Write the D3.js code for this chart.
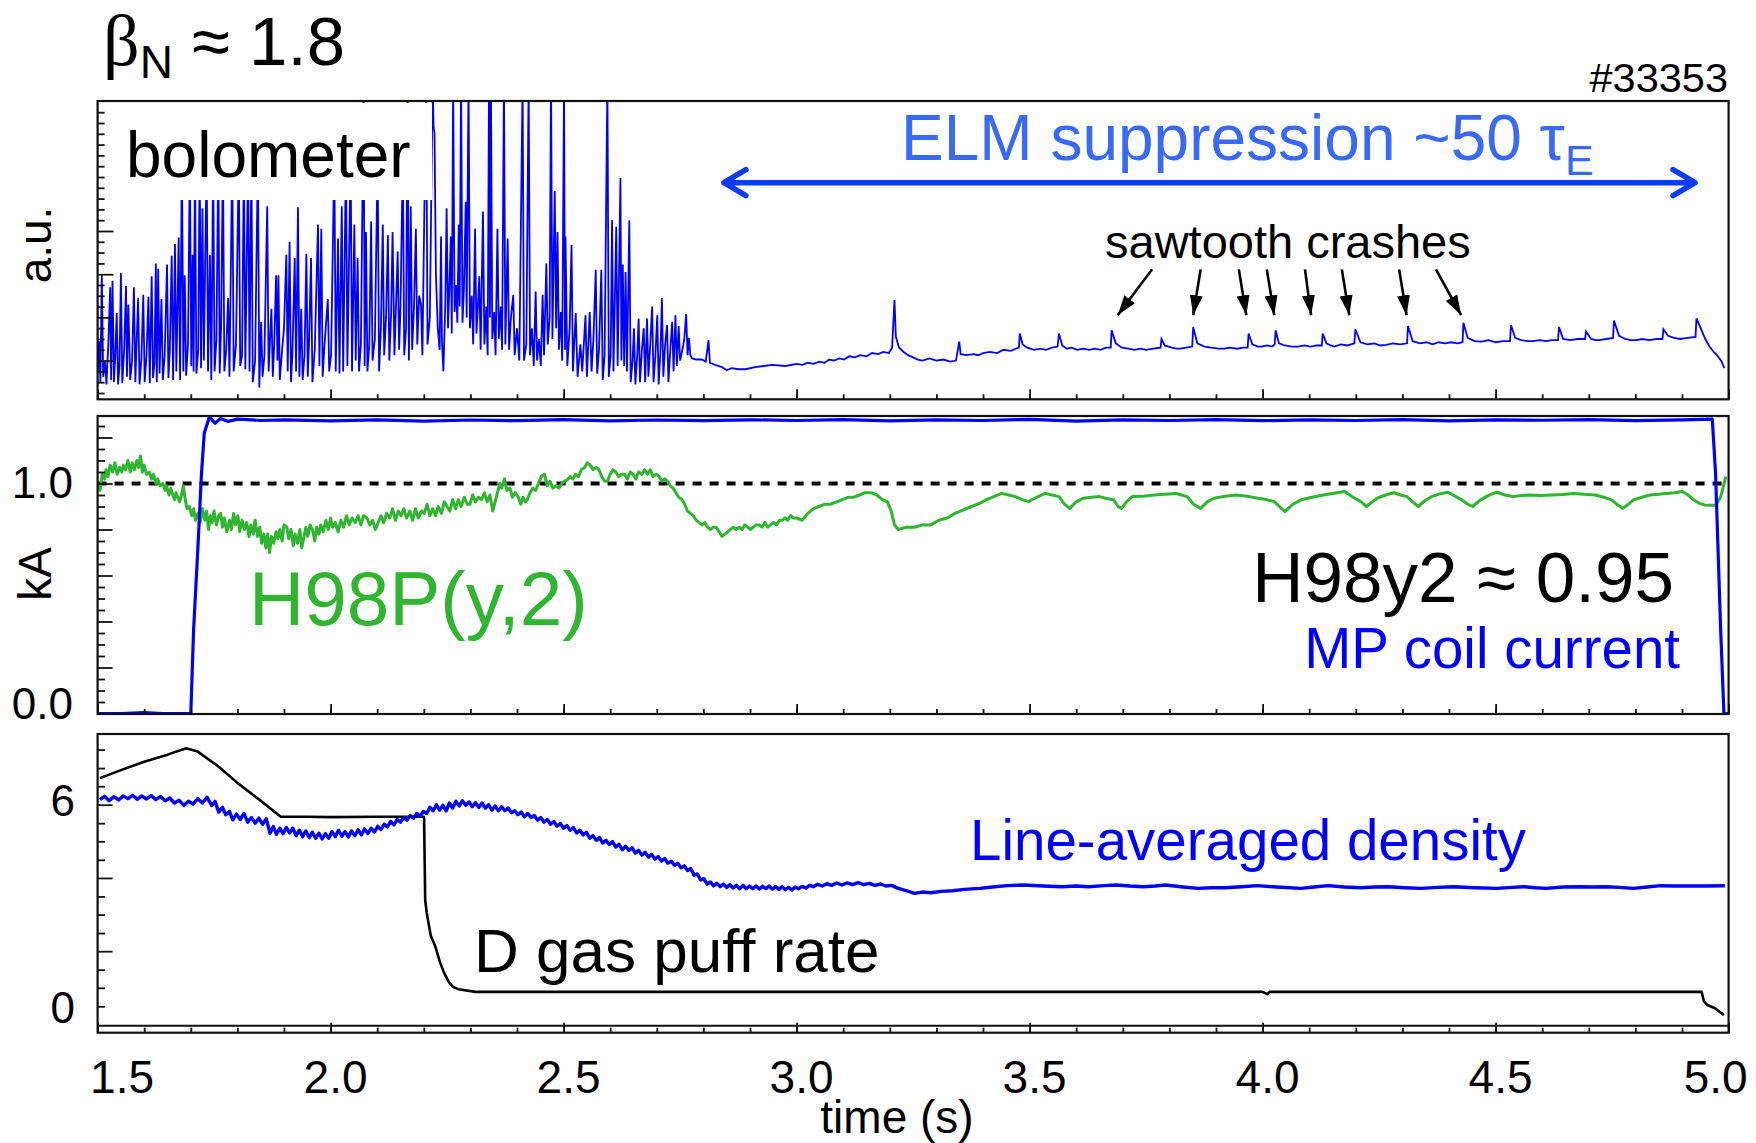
<!DOCTYPE html>
<html><head><meta charset="utf-8">
<script src="https://cdn.jsdelivr.net/npm/d3@7"></script>
<style>
body{margin:0;background:#fff}
svg{display:block}
text{font-family:"Liberation Sans",Arial,Helvetica,sans-serif}
</style></head>
<body><svg id="chart" width="1756" height="1143"></svg>
<script>
// ---------------- DATA ----------------
const timeMajorTicks = [1.5, 2.0, 2.5, 3.0, 3.5, 4.0, 4.5, 5.0];
const timeTickLabels = ["1.5", "2.0", "2.5", "3.0", "3.5", "4.0", "4.5", "5.0"];
const topMajorTicks = [0.4, 0.8, 1.2, 1.6];
const midMajorTicks = [0.2, 0.4, 0.6, 0.8, 1.0, 1.2];
const midTickLabels = [["1.0", 1.0], ["0.0", 0.0]];
const botMinorTicks = [0, 0.55, 1.09, 2.18, 2.73, 3.27, 4.36, 4.91, 5.45, 6.55, 7.09, 7.64];
const botMajorTicks = [1.64, 3.82, 6.0];
const botTickLabels = [["6", 6], ["0", 0]];
const h98Reference = 1.0;

// bolometer, ELM phase [t (s), a.u.]
const boloElm = [
[1.500,0.30],[1.503,0.58],[1.506,0.20],[1.509,1.20],[1.512,0.25],[1.516,0.40],[1.519,0.18],[1.523,0.55],[1.527,1.08],[1.529,0.22],
[1.532,1.14],[1.535,0.20],[1.538,0.45],[1.541,0.84],[1.544,0.18],[1.547,0.35],[1.550,1.21],[1.553,0.19],[1.557,0.50],[1.561,1.09],
[1.563,0.25],[1.566,0.92],[1.570,0.22],[1.574,0.40],[1.578,1.08],[1.581,0.20],[1.584,0.60],[1.587,0.98],[1.590,0.18],[1.594,0.42],
[1.598,1.01],[1.601,0.20],[1.605,0.45],[1.609,0.99],[1.612,0.19],[1.616,1.18],[1.619,0.24],[1.622,0.38],[1.625,1.30],[1.627,0.20],
[1.630,1.25],[1.633,0.28],[1.637,0.97],[1.640,0.22],[1.644,0.45],[1.649,1.29],[1.652,0.24],[1.655,0.50],[1.659,1.37],[1.662,0.22],
[1.666,1.48],[1.669,0.30],[1.674,1.54],[1.677,0.22],[1.681,2.30],[1.684,0.30],[1.687,1.19],[1.690,0.26],[1.694,0.55],[1.698,2.30],
[1.701,0.35],[1.704,1.38],[1.706,0.30],[1.709,2.30],[1.712,0.28],[1.716,0.50],[1.719,2.30],[1.722,0.33],[1.725,1.81],[1.728,0.40],
[1.734,2.30],[1.737,0.30],[1.741,1.38],[1.744,0.22],[1.748,2.30],[1.751,0.30],[1.755,0.60],[1.759,2.30],[1.762,0.28],[1.765,0.70],
[1.769,2.30],[1.772,0.30],[1.776,0.50],[1.780,0.98],[1.783,0.25],[1.789,2.30],[1.792,0.30],[1.797,0.55],[1.803,2.30],[1.806,0.35],
[1.810,0.45],[1.814,2.30],[1.817,0.32],[1.823,2.30],[1.826,0.30],[1.830,2.30],[1.833,0.20],[1.838,0.40],[1.844,2.30],[1.847,0.15],
[1.851,0.76],[1.854,0.25],[1.858,0.45],[1.864,1.83],[1.867,0.30],[1.873,0.88],[1.876,0.25],[1.879,0.55],[1.883,1.19],[1.886,0.40],
[1.888,1.19],[1.891,0.22],[1.896,0.50],[1.900,0.70],[1.905,1.38],[1.908,0.30],[1.912,1.50],[1.915,0.20],[1.918,0.45],[1.923,1.35],
[1.926,0.30],[1.930,1.82],[1.933,0.25],[1.937,0.88],[1.940,0.22],[1.944,0.45],[1.948,1.39],[1.951,0.25],[1.954,0.60],[1.958,1.35],
[1.961,0.20],[1.966,0.50],[1.973,1.66],[1.976,0.35],[1.980,1.62],[1.983,0.25],[1.987,0.55],[1.994,0.97],[1.997,0.30],[2.001,0.45],
[2.008,2.30],[2.011,0.30],[2.016,1.53],[2.019,0.28],[2.024,1.83],[2.027,0.30],[2.033,2.30],[2.036,0.35],[2.043,2.30],[2.046,0.30],
[2.051,1.66],[2.054,0.40],[2.058,1.35],[2.061,0.30],[2.065,0.55],[2.071,3.00],[2.073,0.35],[2.076,1.59],[2.079,0.30],[2.083,0.55],
[2.087,1.69],[2.090,0.40],[2.095,0.60],[2.101,2.30],[2.104,0.30],[2.108,0.70],[2.112,1.66],[2.115,0.45],[2.119,0.80],[2.123,1.56],
[2.126,0.40],[2.130,0.85],[2.133,1.59],[2.137,0.45],[2.144,1.41],[2.147,0.50],[2.150,0.90],[2.155,2.30],[2.158,0.45],[2.162,0.70],
[2.165,3.00],[2.168,0.40],[2.172,1.83],[2.175,0.50],[2.179,0.90],[2.183,1.62],[2.186,0.55],[2.190,1.00],[2.194,0.92],[2.197,0.45],
[2.205,3.00],[2.208,0.55],[2.213,0.80],[2.219,3.00],[2.221,2.57],[2.223,2.50],[2.226,1.20],[2.230,0.70],[2.234,0.50],[2.237,1.55],
[2.239,0.57],[2.242,0.30],[2.246,0.90],[2.249,1.81],[2.252,0.70],[2.255,1.10],[2.258,1.55],[2.260,0.65],[2.263,3.00],[2.266,0.85],
[2.269,1.10],[2.272,0.75],[2.275,1.66],[2.277,0.90],[2.280,3.00],[2.283,0.75],[2.286,1.05],[2.290,1.87],[2.292,0.80],[2.296,3.00],
[2.299,0.70],[2.303,1.00],[2.306,0.55],[2.310,1.62],[2.313,0.65],[2.316,0.90],[2.319,1.18],[2.322,0.50],[2.327,1.78],[2.330,0.55],
[2.334,0.90],[2.337,0.45],[2.340,3.00],[2.342,0.80],[2.344,3.00],[2.347,0.60],[2.351,0.85],[2.354,0.45],[2.358,1.62],[2.361,0.60],
[2.365,0.90],[2.368,0.50],[2.372,3.00],[2.375,0.55],[2.380,1.53],[2.383,0.50],[2.387,0.80],[2.392,1.01],[2.395,0.45],[2.400,0.70],
[2.405,0.40],[2.412,3.00],[2.415,0.40],[2.420,0.55],[2.425,3.00],[2.428,0.45],[2.432,0.70],[2.436,0.35],[2.440,1.04],[2.443,0.40],
[2.447,0.60],[2.451,0.35],[2.455,1.01],[2.458,0.45],[2.463,1.30],[2.466,0.55],[2.470,0.80],[2.473,3.00],[2.476,0.60],[2.481,1.97],
[2.484,0.70],[2.487,1.59],[2.490,0.50],[2.494,0.85],[2.497,0.40],[2.501,3.00],[2.503,0.50],[2.504,1.55],[2.508,0.35],[2.513,0.70],
[2.517,1.47],[2.520,0.30],[2.526,0.84],[2.530,0.25],[2.536,0.55],[2.540,0.30],[2.547,0.82],[2.550,0.25],[2.556,0.85],[2.560,0.30],
[2.564,0.60],[2.569,1.24],[2.572,0.28],[2.576,0.50],[2.581,1.24],[2.584,0.22],[2.588,0.45],[2.594,3.00],[2.597,0.25],[2.601,0.45],
[2.604,1.70],[2.607,0.30],[2.613,1.64],[2.616,0.35],[2.622,2.09],[2.624,0.40],[2.627,1.29],[2.630,0.35],[2.633,1.22],[2.636,0.30],
[2.641,1.70],[2.644,0.20],[2.648,0.40],[2.651,0.70],[2.654,0.18],[2.658,0.45],[2.661,0.79],[2.664,0.20],[2.668,0.50],[2.672,0.70],
[2.675,0.20],[2.679,0.79],[2.682,0.25],[2.686,0.55],[2.690,0.90],[2.693,0.20],[2.697,0.45],[2.701,0.82],[2.704,0.18],[2.708,0.50],
[2.711,0.98],[2.714,0.25],[2.718,0.55],[2.722,0.73],[2.725,0.20],[2.729,0.50],[2.733,0.76],[2.736,0.30],[2.740,0.82],[2.743,0.35],
[2.747,0.72],[2.750,0.40],[2.755,0.50],[2.759,0.60],[2.763,0.83],[2.766,0.45],[2.769,0.61],[2.772,0.45],[2.776,0.42],[2.785,0.41],
[2.797,0.41],[2.805,0.39],[2.811,0.59],[2.814,0.38],[2.825,0.36],[2.840,0.34],[2.850,0.31],[2.860,0.33],[2.876,0.32],[2.890,0.32],
[2.911,0.34],[2.930,0.35],[2.947,0.36],[2.976,0.35]
];
// bolometer, ELM-suppressed phase with sawtooth crashes
const boloSuppressed = [
[3.000,0.37],[3.012,0.36],[3.024,0.38],[3.036,0.37],[3.049,0.39],[3.060,0.38],[3.070,0.41],[3.080,0.40],[3.092,0.42],[3.102,0.41],
[3.113,0.44],[3.125,0.43],[3.137,0.45],[3.150,0.44],[3.162,0.47],[3.175,0.46],[3.186,0.48],[3.198,0.47],[3.205,0.52],[3.210,0.96],
[3.213,0.62],[3.220,0.52],[3.230,0.48],[3.239,0.45],[3.250,0.43],[3.260,0.41],[3.270,0.40],[3.285,0.42],[3.300,0.40],[3.315,0.41],
[3.330,0.39],[3.342,0.40],[3.349,0.575],[3.352,0.46],[3.365,0.45],[3.380,0.46],[3.390,0.45],[3.400,0.47],[3.415,0.48],[3.430,0.47],
[3.444,0.50],[3.460,0.49],[3.470,0.51],[3.477,0.52],[3.479,0.65],[3.485,0.55],[3.495,0.52],[3.510,0.50],[3.523,0.51],[3.535,0.50],
[3.548,0.52],[3.560,0.53],[3.563,0.65],[3.570,0.54],[3.580,0.51],[3.590,0.52],[3.602,0.50],[3.615,0.51],[3.628,0.50],[3.640,0.51],
[3.652,0.50],[3.664,0.52],[3.674,0.52],[3.676,0.68],[3.685,0.56],[3.698,0.52],[3.712,0.51],[3.725,0.50],[3.738,0.51],[3.750,0.50],
[3.765,0.51],[3.781,0.52],[3.783,0.60],[3.790,0.54],[3.805,0.52],[3.815,0.51],[3.823,0.51],[3.836,0.52],[3.849,0.53],[3.851,0.71],
[3.860,0.56],[3.875,0.53],[3.890,0.52],[3.905,0.51],[3.918,0.51],[3.930,0.52],[3.945,0.51],[3.958,0.52],[3.968,0.52],[3.970,0.65],
[3.978,0.55],[3.990,0.53],[3.997,0.53],[4.010,0.54],[4.020,0.53],[4.026,0.55],[4.028,0.68],[4.035,0.56],[4.048,0.54],[4.062,0.53],
[4.076,0.53],[4.090,0.54],[4.103,0.53],[4.116,0.54],[4.127,0.54],[4.129,0.65],[4.137,0.56],[4.146,0.54],[4.154,0.53],[4.168,0.55],
[4.182,0.54],[4.197,0.56],[4.199,0.69],[4.210,0.57],[4.225,0.55],[4.240,0.56],[4.252,0.54],[4.265,0.545],[4.280,0.56],[4.295,0.55],
[4.310,0.56],[4.312,0.72],[4.322,0.58],[4.338,0.56],[4.352,0.57],[4.365,0.55],[4.378,0.57],[4.391,0.56],[4.405,0.57],[4.418,0.56],
[4.429,0.57],[4.431,0.75],[4.440,0.61],[4.455,0.58],[4.470,0.575],[4.485,0.59],[4.500,0.57],[4.516,0.58],[4.531,0.58],[4.533,0.73],
[4.542,0.61],[4.555,0.59],[4.568,0.58],[4.581,0.58],[4.595,0.59],[4.608,0.58],[4.621,0.59],[4.634,0.59],[4.636,0.71],[4.645,0.60],
[4.660,0.59],[4.676,0.60],[4.692,0.60],[4.694,0.67],[4.705,0.60],[4.715,0.59],[4.723,0.59],[4.737,0.60],[4.752,0.61],[4.754,0.77],
[4.765,0.63],[4.778,0.60],[4.790,0.59],[4.802,0.59],[4.815,0.60],[4.830,0.59],[4.845,0.60],[4.858,0.60],[4.860,0.69],[4.870,0.63],
[4.883,0.61],[4.896,0.60],[4.912,0.61],[4.929,0.62],[4.931,0.79],[4.940,0.70],[4.950,0.60],[4.959,0.53],[4.968,0.48],[4.975,0.45],
[4.984,0.40],[4.991,0.33]
];
// MP coil current (kA)
const mpCoil = [
[1.500,0.00],[1.550,0.00],[1.600,0.004],[1.640,0.00],[1.690,0.00],[1.700,0.00],[1.706,0.363],[1.715,0.711],[1.723,1.046],[1.729,1.22],
[1.740,1.29],[1.752,1.262],[1.764,1.283],[1.780,1.270],[1.800,1.280],[1.850,1.274],[1.900,1.277],[2.000,1.272],[2.100,1.277],[2.200,1.271],
[2.300,1.276],[2.400,1.273],[2.500,1.278],[2.600,1.272],[2.700,1.276],[2.800,1.273],[2.900,1.277],[3.000,1.274],[3.100,1.278],[3.200,1.272],
[3.300,1.277],[3.400,1.274],[3.500,1.279],[3.600,1.271],[3.700,1.277],[3.800,1.274],[3.900,1.278],[4.000,1.273],[4.100,1.277],[4.200,1.274],
[4.300,1.278],[4.400,1.272],[4.500,1.277],[4.600,1.275],[4.700,1.278],[4.800,1.273],[4.900,1.277],[4.965,1.280],[4.972,1.046],[4.983,0.363],
[4.990,0.00],[5.000,0.00]
];
// H98P(y,2)
const h98 = [
[1.500,1.00],[1.505,0.97],[1.510,1.04],[1.515,1.02],[1.518,1.06],[1.522,1.03],[1.527,1.08],[1.532,1.05],[1.537,1.09],[1.542,1.04],
[1.547,1.07],[1.552,1.05],[1.555,1.08],[1.560,1.06],[1.565,1.10],[1.570,1.05],[1.574,1.09],[1.579,1.06],[1.584,1.10],[1.588,1.07],
[1.592,1.12],[1.596,1.05],[1.600,1.08],[1.605,1.04],[1.611,1.05],[1.616,1.02],[1.620,1.04],[1.625,1.00],[1.629,1.02],[1.634,0.99],
[1.640,1.00],[1.645,0.97],[1.648,0.99],[1.653,0.95],[1.657,0.98],[1.660,0.96],[1.665,0.93],[1.668,0.96],[1.672,0.94],[1.676,0.92],
[1.680,0.95],[1.684,0.99],[1.688,0.93],[1.692,0.89],[1.697,0.90],[1.702,0.86],[1.706,0.89],[1.710,0.84],[1.715,0.87],[1.720,0.83],
[1.725,0.89],[1.730,0.84],[1.734,0.88],[1.738,0.80],[1.742,0.86],[1.746,0.83],[1.750,0.88],[1.755,0.82],[1.760,0.86],[1.764,0.87],
[1.768,0.81],[1.772,0.85],[1.777,0.79],[1.783,0.84],[1.787,0.80],[1.792,0.87],[1.796,0.82],[1.801,0.86],[1.805,0.79],[1.810,0.84],
[1.815,0.80],[1.820,0.83],[1.825,0.77],[1.829,0.82],[1.834,0.78],[1.838,0.84],[1.843,0.77],[1.848,0.81],[1.852,0.74],[1.857,0.78],
[1.861,0.72],[1.865,0.78],[1.869,0.70],[1.873,0.77],[1.878,0.74],[1.883,0.79],[1.887,0.76],[1.891,0.80],[1.896,0.75],[1.900,0.82],
[1.906,0.81],[1.910,0.76],[1.915,0.80],[1.920,0.73],[1.924,0.78],[1.929,0.74],[1.934,0.80],[1.938,0.72],[1.942,0.76],[1.947,0.81],
[1.951,0.77],[1.956,0.82],[1.961,0.80],[1.966,0.75],[1.970,0.81],[1.975,0.78],[1.979,0.82],[1.984,0.79],[1.990,0.84],[1.995,0.80],
[2.000,0.85],[2.004,0.81],[2.010,0.83],[2.016,0.79],[2.022,0.84],[2.028,0.81],[2.034,0.86],[2.040,0.82],[2.046,0.85],[2.053,0.83],
[2.059,0.86],[2.065,0.82],[2.071,0.86],[2.078,0.85],[2.084,0.82],[2.090,0.84],[2.096,0.80],[2.102,0.83],[2.108,0.86],[2.114,0.83],
[2.120,0.87],[2.127,0.85],[2.133,0.89],[2.139,0.84],[2.145,0.88],[2.151,0.86],[2.157,0.89],[2.163,0.85],[2.170,0.88],[2.176,0.84],
[2.182,0.89],[2.188,0.85],[2.195,0.88],[2.201,0.87],[2.207,0.91],[2.213,0.86],[2.219,0.89],[2.225,0.86],[2.231,0.90],[2.238,0.87],
[2.244,0.92],[2.250,0.90],[2.256,0.88],[2.262,0.93],[2.268,0.89],[2.274,0.93],[2.280,0.90],[2.287,0.94],[2.293,0.91],[2.299,0.91],
[2.305,0.95],[2.311,0.92],[2.317,0.94],[2.324,0.93],[2.330,0.96],[2.336,0.92],[2.342,0.95],[2.348,0.88],[2.353,0.92],[2.358,0.96],
[2.363,1.00],[2.367,0.98],[2.373,1.02],[2.378,0.97],[2.385,0.98],[2.390,0.94],[2.396,0.96],[2.403,0.94],[2.408,0.91],[2.413,0.94],
[2.418,0.92],[2.422,0.93],[2.428,0.96],[2.434,0.98],[2.440,0.97],[2.446,1.00],[2.452,1.03],[2.459,1.04],[2.465,0.99],[2.471,1.01],
[2.477,0.98],[2.483,0.99],[2.490,0.98],[2.496,1.00],[2.502,1.01],[2.508,1.015],[2.514,1.03],[2.520,1.02],[2.526,1.04],[2.532,1.03],
[2.538,1.06],[2.545,1.07],[2.551,1.09],[2.557,1.08],[2.563,1.06],[2.570,1.07],[2.576,1.06],[2.582,1.03],[2.588,1.01],[2.594,1.01],
[2.600,1.04],[2.606,1.06],[2.612,1.05],[2.618,1.03],[2.624,1.04],[2.631,1.04],[2.637,1.02],[2.643,1.05],[2.649,1.04],[2.655,1.02],
[2.661,1.05],[2.668,1.04],[2.674,1.06],[2.680,1.04],[2.686,1.06],[2.692,1.03],[2.698,1.04],[2.705,1.03],[2.711,1.01],[2.717,1.02],
[2.723,1.01],[2.729,0.99],[2.735,0.98],[2.741,0.96],[2.747,0.94],[2.754,0.93],[2.760,0.91],[2.766,0.88],[2.772,0.87],[2.778,0.86],
[2.785,0.84],[2.791,0.83],[2.797,0.82],[2.803,0.83],[2.809,0.81],[2.815,0.80],[2.821,0.81],[2.827,0.81],[2.834,0.79],[2.840,0.77],
[2.846,0.78],[2.852,0.79],[2.858,0.80],[2.864,0.81],[2.870,0.80],[2.877,0.81],[2.883,0.80],[2.889,0.82],[2.895,0.81],[2.901,0.80],
[2.907,0.81],[2.913,0.82],[2.920,0.82],[2.926,0.81],[2.932,0.83],[2.938,0.81],[2.944,0.82],[2.950,0.83],[2.957,0.82],[2.963,0.84],
[2.969,0.84],[2.975,0.85],[2.981,0.84],[2.987,0.86],[2.993,0.85],[3.000,0.85],[3.012,0.84],[3.024,0.87],[3.036,0.89],[3.048,0.90],
[3.061,0.91],[3.073,0.91],[3.086,0.92],[3.098,0.93],[3.110,0.94],[3.122,0.94],[3.135,0.95],[3.147,0.96],[3.160,0.96],[3.172,0.95],
[3.184,0.93],[3.195,0.92],[3.203,0.88],[3.210,0.82],[3.218,0.80],[3.235,0.81],[3.253,0.81],[3.270,0.82],[3.288,0.82],[3.305,0.84],
[3.323,0.85],[3.340,0.87],[3.358,0.885],[3.375,0.90],[3.393,0.914],[3.408,0.93],[3.423,0.943],[3.440,0.957],[3.455,0.95],[3.469,0.943],
[3.484,0.93],[3.498,0.921],[3.515,0.94],[3.533,0.957],[3.548,0.95],[3.563,0.943],[3.575,0.91],[3.586,0.892],[3.600,0.92],[3.615,0.936],
[3.633,0.94],[3.650,0.943],[3.665,0.935],[3.680,0.929],[3.690,0.90],[3.697,0.892],[3.708,0.92],[3.720,0.943],[3.744,0.945],[3.767,0.95],
[3.790,0.953],[3.814,0.957],[3.826,0.95],[3.838,0.943],[3.852,0.91],[3.867,0.892],[3.881,0.92],[3.896,0.936],[3.920,0.945],[3.943,0.95],
[3.966,0.945],[3.990,0.936],[4.008,0.93],[4.025,0.921],[4.036,0.90],[4.048,0.878],[4.065,0.91],[4.083,0.929],[4.106,0.94],[4.130,0.95],
[4.153,0.958],[4.176,0.965],[4.194,0.94],[4.211,0.921],[4.223,0.90],[4.235,0.92],[4.246,0.936],[4.264,0.95],[4.281,0.96],[4.296,0.95],
[4.310,0.943],[4.322,0.92],[4.334,0.90],[4.348,0.925],[4.363,0.943],[4.380,0.955],[4.398,0.962],[4.413,0.945],[4.427,0.929],[4.440,0.91],
[4.451,0.90],[4.465,0.925],[4.480,0.943],[4.492,0.955],[4.503,0.962],[4.520,0.95],[4.538,0.943],[4.555,0.948],[4.573,0.95],[4.597,0.948],
[4.620,0.95],[4.644,0.952],[4.667,0.957],[4.690,0.953],[4.714,0.95],[4.732,0.94],[4.749,0.929],[4.760,0.91],[4.773,0.892],[4.785,0.91],
[4.796,0.929],[4.814,0.94],[4.831,0.95],[4.849,0.953],[4.866,0.957],[4.884,0.96],[4.901,0.965],[4.913,0.95],[4.925,0.929],[4.936,0.915],
[4.948,0.907],[4.960,0.905],[4.971,0.905],[4.977,0.92],[4.983,0.943],[4.989,0.99],[4.994,1.03]
];
// line-averaged density
const density = [
[1.505,6.15],[1.515,6.25],[1.525,6.12],[1.535,6.24],[1.545,6.14],[1.555,6.26],[1.565,6.18],[1.575,6.28],[1.585,6.16],[1.595,6.26],
[1.605,6.17],[1.615,6.27],[1.625,6.15],[1.635,6.24],[1.645,6.12],[1.655,6.20],[1.665,6.05],[1.675,6.13],[1.685,5.98],[1.695,6.10],
[1.705,6.02],[1.715,6.18],[1.725,6.05],[1.735,6.22],[1.745,5.98],[1.752,6.10],[1.760,5.78],[1.768,5.92],[1.775,5.70],[1.783,5.80],
[1.790,5.55],[1.798,5.72],[1.806,5.56],[1.814,5.74],[1.822,5.48],[1.830,5.62],[1.838,5.45],[1.846,5.60],[1.854,5.42],[1.862,5.58],
[1.870,5.15],[1.877,5.35],[1.884,5.12],[1.891,5.30],[1.898,5.14],[1.905,5.32],[1.912,5.16],[1.919,5.30],[1.926,5.08],[1.933,5.24],
[1.940,5.05],[1.947,5.22],[1.954,5.02],[1.961,5.18],[1.968,5.00],[1.975,5.15],[1.982,4.98],[1.989,5.14],[1.996,5.00],[2.003,5.20],
[2.010,5.05],[2.017,5.24],[2.024,5.06],[2.031,5.20],[2.038,5.04],[2.045,5.22],[2.052,5.08],[2.059,5.25],[2.066,5.10],[2.073,5.28],
[2.080,5.14],[2.087,5.30],[2.094,5.18],[2.101,5.36],[2.108,5.26],[2.115,5.42],[2.122,5.34],[2.129,5.50],[2.136,5.40],[2.143,5.56],
[2.150,5.48],[2.157,5.62],[2.164,5.54],[2.171,5.68],[2.178,5.60],[2.185,5.74],[2.192,5.66],[2.199,5.80],[2.206,5.74],[2.213,5.92],
[2.220,5.82],[2.227,6.00],[2.234,5.84],[2.241,5.98],[2.248,5.82],[2.255,6.05],[2.262,5.90],[2.269,6.10],[2.276,5.96],[2.283,6.12],
[2.290,5.98],[2.297,6.08],[2.304,5.94],[2.311,6.06],[2.318,5.92],[2.325,6.05],[2.332,5.90],[2.339,6.00],[2.346,5.84],[2.353,5.96],
[2.360,5.82],[2.367,5.94],[2.374,5.82],[2.381,5.90],[2.388,5.76],[2.395,5.82],[2.402,5.70],[2.409,5.78],[2.416,5.64],[2.423,5.74],
[2.430,5.62],[2.437,5.68],[2.444,5.54],[2.451,5.62],[2.458,5.48],[2.465,5.56],[2.472,5.42],[2.479,5.50],[2.486,5.36],[2.493,5.44],
[2.500,5.30],[2.507,5.38],[2.514,5.24],[2.521,5.32],[2.528,5.16],[2.535,5.24],[2.542,5.10],[2.549,5.18],[2.556,5.00],[2.563,5.08],
[2.570,4.94],[2.577,5.02],[2.584,4.86],[2.591,4.94],[2.598,4.82],[2.605,4.90],[2.612,4.74],[2.619,4.82],[2.626,4.66],[2.633,4.76],
[2.640,4.64],[2.647,4.72],[2.654,4.56],[2.661,4.64],[2.668,4.50],[2.675,4.58],[2.682,4.44],[2.689,4.52],[2.696,4.38],[2.703,4.46],
[2.710,4.32],[2.717,4.40],[2.724,4.26],[2.731,4.32],[2.738,4.20],[2.745,4.26],[2.752,4.12],[2.759,4.18],[2.766,4.04],[2.773,4.10],
[2.780,3.90],[2.787,3.94],[2.794,3.76],[2.801,3.80],[2.808,3.64],[2.815,3.70],[2.822,3.58],[2.829,3.66],[2.836,3.56],[2.843,3.64],
[2.850,3.54],[2.857,3.62],[2.864,3.52],[2.871,3.60],[2.878,3.50],[2.885,3.60],[2.892,3.50],[2.899,3.58],[2.906,3.50],[2.913,3.58],
[2.920,3.49],[2.927,3.57],[2.934,3.50],[2.941,3.58],[2.948,3.49],[2.955,3.56],[2.962,3.48],[2.969,3.56],[2.976,3.47],[2.983,3.54],
[2.990,3.46],[2.997,3.55],[3.004,3.50],[3.012,3.57],[3.020,3.52],[3.028,3.60],[3.036,3.56],[3.045,3.63],[3.055,3.58],[3.065,3.65],
[3.075,3.60],[3.086,3.67],[3.097,3.61],[3.108,3.67],[3.120,3.62],[3.132,3.68],[3.144,3.62],[3.156,3.66],[3.168,3.60],[3.180,3.64],
[3.192,3.58],[3.204,3.60],[3.218,3.51],[3.235,3.44],[3.253,3.36],[3.270,3.40],[3.288,3.38],[3.310,3.42],[3.335,3.44],[3.360,3.48],
[3.393,3.51],[3.420,3.55],[3.452,3.59],[3.487,3.61],[3.530,3.58],[3.569,3.56],[3.600,3.58],[3.627,3.56],[3.660,3.59],[3.686,3.61],
[3.715,3.58],[3.744,3.56],[3.770,3.58],[3.791,3.61],[3.830,3.55],[3.861,3.51],[3.890,3.53],[3.919,3.53],[3.955,3.56],[3.989,3.59],
[4.030,3.55],[4.083,3.51],[4.110,3.55],[4.141,3.59],[4.175,3.55],[4.211,3.53],[4.240,3.55],[4.270,3.56],[4.305,3.53],[4.340,3.51],
[4.375,3.54],[4.410,3.56],[4.455,3.53],[4.503,3.51],[4.535,3.54],[4.562,3.56],[4.585,3.53],[4.609,3.51],[4.645,3.55],[4.679,3.56],
[4.708,3.55],[4.737,3.56],[4.766,3.54],[4.796,3.51],[4.825,3.55],[4.854,3.59],[4.883,3.58],[4.913,3.58],[4.950,3.58],[4.992,3.59]
];
// D gas puff rate
const gasPuff = [
[1.505,6.79],[1.550,7.03],[1.600,7.28],[1.650,7.49],[1.690,7.68],[1.715,7.58],[1.760,7.13],[1.800,6.65],[1.850,6.12],[1.893,5.64],
[1.950,5.64],[2.000,5.63],[2.100,5.64],[2.200,5.64],[2.2006,5.62],[2.203,3.16],[2.206,2.80],[2.215,2.10],[2.225,1.77],[2.235,1.30],
[2.244,0.98],[2.253,0.74],[2.262,0.58],[2.274,0.51],[2.311,0.43],[2.500,0.43],[3.000,0.43],[3.500,0.43],[4.000,0.43],[4.010,0.36],
[4.015,0.43],[4.500,0.43],[4.942,0.43],[4.947,0.15],[4.954,0.04],[4.970,-0.05],[4.990,-0.26]
];
// annotation anchors (data coordinates)
const elmSuppression = {t0: 2.844, t1: 4.928, v: 2.047};
const sawtoothTailT = [3.763, 3.867, 3.949, 4.009, 4.091, 4.170, 4.293, 4.372];
const sawtoothTipT  = [3.689, 3.851, 3.965, 4.025, 4.104, 4.186, 4.309, 4.426];
const sawtoothTailV = 1.245, sawtoothTipV = 0.82;

// ---------------- LAYOUT ----------------
const svg = d3.select("#chart");
const L = 97.6, R = 1728.6;
const panels = {
  top: {y0: 101, y1: 399.3},
  mid: {y0: 416, y1: 714},
  bot: {y0: 734, y1: 1032.7}
};
const x = d3.scaleLinear().domain([1.5, 5.0]).range([L, R]);
const yTop = d3.scaleLinear().domain([0, 2.8]).range([403.8, 101.4]);
const yMid = d3.scaleLinear().domain([0, 1.3]).range([713.5, 414.5]);
const yBot = d3.scaleLinear().domain([0, 6]).range([1006.3, 804.7]);

const BLUE = "#0000ff", GREEN = "#2fb52f";
const FONT = '"Liberation Sans", Arial, Helvetica, sans-serif';

const defs = svg.append("defs");
Object.entries(panels).forEach(([k, p]) => {
  defs.append("clipPath").attr("id", "clip-" + k)
    .append("rect").attr("x", L).attr("y", p.y0).attr("width", R - L).attr("height", p.y1 - p.y0 + 1.5);
});
defs.append("marker").attr("id", "arrowBlack").attr("markerUnits", "userSpaceOnUse")
  .attr("viewBox", "0 -7 20 14").attr("refX", 20).attr("refY", 0)
  .attr("markerWidth", 20).attr("markerHeight", 14).attr("orient", "auto")
  .append("path").attr("d", "M0,-6.5L20,0L0,6.5Z").attr("fill", "#000");

const lineOf = (yS) => d3.line().x(d => x(d[0])).y(d => yS(d[1]));

// ---------- Top panel: bolometer ----------
const gTop = svg.append("g").attr("clip-path", "url(#clip-top)");
gTop.append("path").datum(boloElm.concat(boloSuppressed))
  .attr("d", lineOf(yTop)).attr("fill", "none").attr("stroke", BLUE)
  .attr("stroke-width", 1.8).attr("stroke-linejoin", "miter");

// ---------- Middle panel ----------
const gMid = svg.append("g").attr("clip-path", "url(#clip-mid)");
gMid.append("line").attr("x1", L).attr("x2", R)
  .attr("y1", yMid(h98Reference)).attr("y2", yMid(h98Reference))
  .attr("stroke", "#000").attr("stroke-width", 4).attr("stroke-dasharray", "9,8");
gMid.append("path").datum(h98).attr("d", lineOf(yMid))
  .attr("fill", "none").attr("stroke", GREEN).attr("stroke-width", 3).attr("stroke-linejoin", "round");
gMid.append("path").datum(mpCoil).attr("d", lineOf(yMid))
  .attr("fill", "none").attr("stroke", BLUE).attr("stroke-width", 3.2).attr("stroke-linejoin", "round");

// ---------- Bottom panel ----------
const gBot = svg.append("g").attr("clip-path", "url(#clip-bot)");
gBot.append("path").datum(gasPuff).attr("d", lineOf(yBot))
  .attr("fill", "none").attr("stroke", "#000").attr("stroke-width", 2.6).attr("stroke-linejoin", "round");
gBot.append("path").datum(density).attr("d", lineOf(yBot))
  .attr("fill", "none").attr("stroke", BLUE).attr("stroke-width", 3.4).attr("stroke-linejoin", "round");

// white label box over bolometer traces
svg.append("rect").attr("x", L + 1).attr("y", 103).attr("width", 432 - L - 1).attr("height", 97).attr("fill", "#fff");

// ---------- Frames & ticks ----------
const minorTimeTicks = d3.range(15, 51).map(d => d / 10);
Object.entries(panels).forEach(([k, p]) => {
  const g = svg.append("g");
  const axMinor = d3.axisBottom(x).tickValues(minorTimeTicks).tickSize(-5).tickFormat("");
  const axMajor = d3.axisBottom(x).tickValues(timeMajorTicks).tickSize(-10).tickFormat("");
  [axMinor, axMajor].forEach(ax => {
    const a = g.append("g").attr("transform", `translate(0,${p.y1})`).call(ax);
    a.select(".domain").remove();
    a.selectAll("line").attr("stroke", "#111").attr("stroke-width", 1.8);
  });
  g.append("rect").attr("x", L).attr("y", p.y0).attr("width", R - L).attr("height", p.y1 - p.y0)
    .attr("fill", "none").attr("stroke", "#111").attr("stroke-width", 2.2);
});
svg.append("line").attr("x1", L).attr("x2", R).attr("y1", 1025.7).attr("y2", 1025.7)
  .attr("stroke", "#111").attr("stroke-width", 2);

function leftTicks(yS, minor, major, lenMinor, lenMajor) {
  const g = svg.append("g").attr("transform", `translate(${L},0)`);
  [[minor, lenMinor], [major, lenMajor]].forEach(([vals, len]) => {
    const a = g.append("g").call(d3.axisLeft(yS).tickValues(vals).tickSize(-len).tickFormat(""));
    a.select(".domain").remove();
    a.selectAll("line").attr("stroke", "#111").attr("stroke-width", 1.8);
  });
}
leftTicks(yTop, d3.range(1, 28).map(d => d / 10).filter(v => !topMajorTicks.includes(v)), topMajorTicks, 7, 16);
leftTicks(yMid, d3.range(1, 26).map(d => d * 0.05).filter(v => Math.abs(v * 5 - Math.round(v * 5)) > 1e-6), midMajorTicks, 7.5, 15);
leftTicks(yBot, botMinorTicks, botMajorTicks, 7.5, 15);

// ---------- Tick labels ----------
const tl = svg.append("g").attr("font-family", FONT).attr("fill", "#000");
timeMajorTicks.forEach((t, i) => {
  let anchor = "middle", px = x(t) + 5;
  if (i === 0) { anchor = "start"; px = x(t) - 7.5; }
  if (i === timeMajorTicks.length - 1) { anchor = "end"; px = x(t) + 19; }
  tl.append("text").attr("x", px).attr("y", 1093).attr("text-anchor", anchor)
    .attr("font-size", 46).text(timeTickLabels[i]);
});
const midNudge = [14.5, 5.5];
midTickLabels.forEach(([lab, v], i) => {
  tl.append("text").attr("x", 73).attr("y", yMid(v) + midNudge[i]).attr("text-anchor", "end")
    .attr("font-size", 44).text(lab);
});
const botNudge = [11.5, 16.7];
botTickLabels.forEach(([lab, v], i) => {
  tl.append("text").attr("x", 75).attr("y", yBot(v) + botNudge[i]).attr("text-anchor", "end")
    .attr("font-size", 44).text(lab);
});
tl.append("text").attr("x", 897).attr("y", 1133).attr("text-anchor", "middle")
  .attr("font-size", 46).text("time (s)");
tl.append("text").attr("transform", "translate(51,245) rotate(-90)").attr("text-anchor", "middle")
  .attr("font-size", 46).text("a.u.");
tl.append("text").attr("transform", "translate(51,574) rotate(-90)").attr("text-anchor", "middle")
  .attr("font-size", 46).text("kA");

// ---------- Annotations ----------
const ann = svg.append("g").attr("font-family", FONT);
const bt = ann.append("text").attr("x", 103).attr("y", 65).attr("font-size", 69).attr("fill", "#000");
bt.append("tspan").attr("font-family", '"Liberation Serif", "Times New Roman", serif').attr("font-size", 72).text("β");
bt.append("tspan").attr("font-size", 46).attr("dy", 13).text("N");
bt.append("tspan").attr("dy", -13).text(" ≈ 1.8");
ann.append("text").attr("x", 1728).attr("y", 92).attr("text-anchor", "end")
  .attr("font-size", 41.5).attr("fill", "#000").text("#33353");
ann.append("text").attr("x", 126).attr("y", 177).attr("font-size", 64).attr("fill", "#000").text("bolometer");

const et = ann.append("text").attr("x", 901).attr("y", 160).attr("font-size", 64).attr("fill", "#3a6af5");
et.append("tspan").text("ELM suppression ~50 τ");
et.append("tspan").attr("font-size", 43).attr("dy", 15).text("E");
const ex0 = x(elmSuppression.t0), ex1 = x(elmSuppression.t1), ey = yTop(elmSuppression.v);
ann.append("path")
  .attr("d", `M${ex0},${ey}L${ex1},${ey}M${ex0 + 22},${ey - 13}L${ex0},${ey}L${ex0 + 22},${ey + 13}M${ex1 - 22},${ey - 13}L${ex1},${ey}L${ex1 - 22},${ey + 13}`)
  .attr("fill", "none").attr("stroke", "#0b3cf5").attr("stroke-width", 5.5)
  .attr("stroke-linecap", "round").attr("stroke-linejoin", "round");

ann.append("text").attr("x", 1105).attr("y", 258).attr("font-size", 47).attr("fill", "#000").text("sawtooth crashes");
sawtoothTailT.forEach((t0, i) => {
  ann.append("line").attr("x1", x(t0)).attr("y1", yTop(sawtoothTailV))
    .attr("x2", x(sawtoothTipT[i])).attr("y2", yTop(sawtoothTipV))
    .attr("stroke", "#000").attr("stroke-width", 2.6).attr("marker-end", "url(#arrowBlack)");
});

ann.append("text").attr("x", 249).attr("y", 625).attr("font-size", 76.5).attr("fill", GREEN).text("H98P(y,2)");
ann.append("text").attr("x", 1674).attr("y", 602).attr("text-anchor", "end").attr("font-size", 71)
  .attr("fill", "#000").text("H98y2 ≈ 0.95");
ann.append("text").attr("x", 1680).attr("y", 668).attr("text-anchor", "end").attr("font-size", 56.5)
  .attr("fill", BLUE).text("MP coil current");

ann.append("text").attr("x", 474).attr("y", 972).attr("font-size", 62).attr("fill", "#000").text("D gas puff rate");
ann.append("text").attr("x", 970).attr("y", 860).attr("font-size", 56.5).attr("fill", BLUE).text("Line-averaged density");
</script>
</body></html>
